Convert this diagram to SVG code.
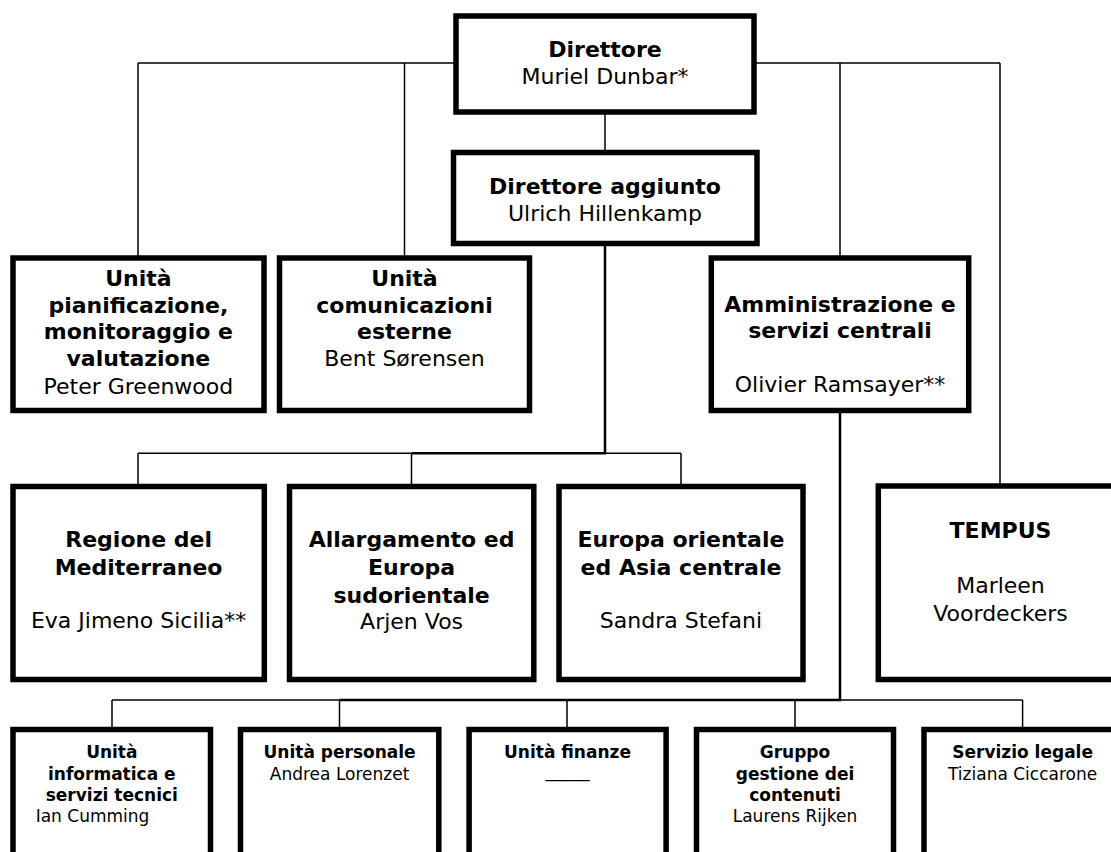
<svg xmlns="http://www.w3.org/2000/svg" width="1111" height="852" viewBox="0 0 1111 852">
<style>
.box{fill:#fff;stroke:#000;stroke-width:5.5}
.ln{fill:none;stroke:#000;stroke-width:1.5}
.lt{fill:none;stroke:#000;stroke-width:2.5}
text{font-family:"DejaVu Sans",Verdana,sans-serif;fill:#000;text-anchor:middle}
.b{font-weight:bold}
.L{font-size:22px}
.S{font-size:17px}
</style>
<rect width="1111" height="852" fill="#fff"/>
<g id="connectors">
<path class="ln" d="M138,63H1000M138,63V256M404.5,63V256M840,63V256M1000,63V484M605,114V150"/>
<path class="ln" d="M138,453.3H681M138,453.3V484M411.5,453.3V484M681,453.3V484"/>
<path class="lt" d="M605,246V453.3H411.5"/>
<path class="lt" d="M840,413V700H339.5"/>
<path class="ln" d="M112,700H1022.6M112,700V727M339.5,700V727M567,700V727M795,700V727M1022.6,700V727"/>
</g>
<g id="direttore">
<rect class="box" x="456" y="16" width="298" height="96"/>
<text class="L b" x="605" y="57">Direttore</text>
<text class="L" x="605" y="83.5">Muriel Dunbar*</text>
</g>
<g id="direttore-aggiunto">
<rect class="box" x="453.5" y="152.5" width="303.5" height="91"/>
<text class="L b" x="605" y="194">Direttore aggiunto</text>
<text class="L" x="605" y="220.7">Ulrich Hillenkamp</text>
</g>
<g id="pianificazione">
<rect class="box" x="13" y="258" width="251" height="152.5"/>
<text class="L b" x="138.4" y="285.7">Unità</text>
<text class="L b" x="138.4" y="312.7">pianificazione,</text>
<text class="L b" x="138.4" y="339.3">monitoraggio e</text>
<text class="L b" x="138.4" y="366">valutazione</text>
<text class="L" x="138.4" y="394">Peter Greenwood</text>
</g>
<g id="comunicazioni">
<rect class="box" x="279.5" y="258" width="250" height="152.5"/>
<text class="L b" x="404.5" y="285.7">Unità</text>
<text class="L b" x="404.5" y="312.7">comunicazioni</text>
<text class="L b" x="404.5" y="339.3">esterne</text>
<text class="L" x="404.5" y="366">Bent Sørensen</text>
</g>
<g id="amministrazione">
<rect class="box" x="711.3" y="258" width="257.4" height="152.5"/>
<text class="L b" x="840" y="311.7">Amministrazione e</text>
<text class="L b" x="840" y="338.3">servizi centrali</text>
<text class="L" x="840" y="391.7">Olivier Ramsayer**</text>
</g>
<g id="mediterraneo">
<rect class="box" x="13" y="486.5" width="251.3" height="193"/>
<text class="L b" x="138.6" y="547.3">Regione del</text>
<text class="L b" x="138.6" y="575">Mediterraneo</text>
<text class="L" x="138.6" y="628.3">Eva Jimeno Sicilia**</text>
</g>
<g id="allargamento">
<rect class="box" x="289.5" y="486.5" width="244.3" height="193"/>
<text class="L b" x="411.6" y="547.3">Allargamento ed</text>
<text class="L b" x="411.6" y="575">Europa</text>
<text class="L b" x="411.6" y="602.7">sudorientale</text>
<text class="L" x="411.6" y="629.3">Arjen Vos</text>
</g>
<g id="europa-orientale">
<rect class="box" x="559" y="486.5" width="244" height="193"/>
<text class="L b" x="681" y="547.3">Europa orientale</text>
<text class="L b" x="681" y="575">ed Asia centrale</text>
<text class="L" x="681" y="628">Sandra Stefani</text>
</g>
<g id="tempus">
<rect class="box" x="878.3" y="486" width="260" height="193.5"/>
<text class="L b" x="1000.5" y="538.3">TEMPUS</text>
<text class="L" x="1000.5" y="593.3">Marleen</text>
<text class="L" x="1000.5" y="620.7">Voordeckers</text>
</g>
<g id="informatica">
<rect class="box" x="13" y="729.5" width="197.5" height="200"/>
<text class="S b" x="111.8" y="758.3">Unità</text>
<text class="S b" x="111.8" y="779.5">informatica e</text>
<text class="S b" x="111.8" y="800.7">servizi tecnici</text>
<text class="S" x="35.7" y="821.7" style="text-anchor:start">Ian Cumming</text>
</g>
<g id="personale">
<rect class="box" x="240.5" y="729.5" width="198.3" height="200"/>
<text class="S b" x="339.6" y="758.3">Unità personale</text>
<text class="S" x="339.6" y="779.5">Andrea Lorenzet</text>
</g>
<g id="finanze">
<rect class="box" x="469.1" y="729.5" width="197" height="200"/>
<text class="S b" x="567.5" y="758.3">Unità finanze</text>
<text class="S" x="567.5" y="776.5" textLength="44" lengthAdjust="spacingAndGlyphs">____</text>
</g>
<g id="contenuti">
<rect class="box" x="696.5" y="729.5" width="197" height="200"/>
<text class="S b" x="795" y="758.3">Gruppo</text>
<text class="S b" x="795" y="779.5">gestione dei</text>
<text class="S b" x="795" y="800.7">contenuti</text>
<text class="S" x="795" y="821.7">Laurens Rijken</text>
</g>
<g id="legale">
<rect class="box" x="924" y="729.5" width="250" height="200"/>
<text class="S b" x="1022.6" y="758.3">Servizio legale</text>
<text class="S" x="1022.6" y="779.5">Tiziana Ciccarone</text>
</g>
</svg>
